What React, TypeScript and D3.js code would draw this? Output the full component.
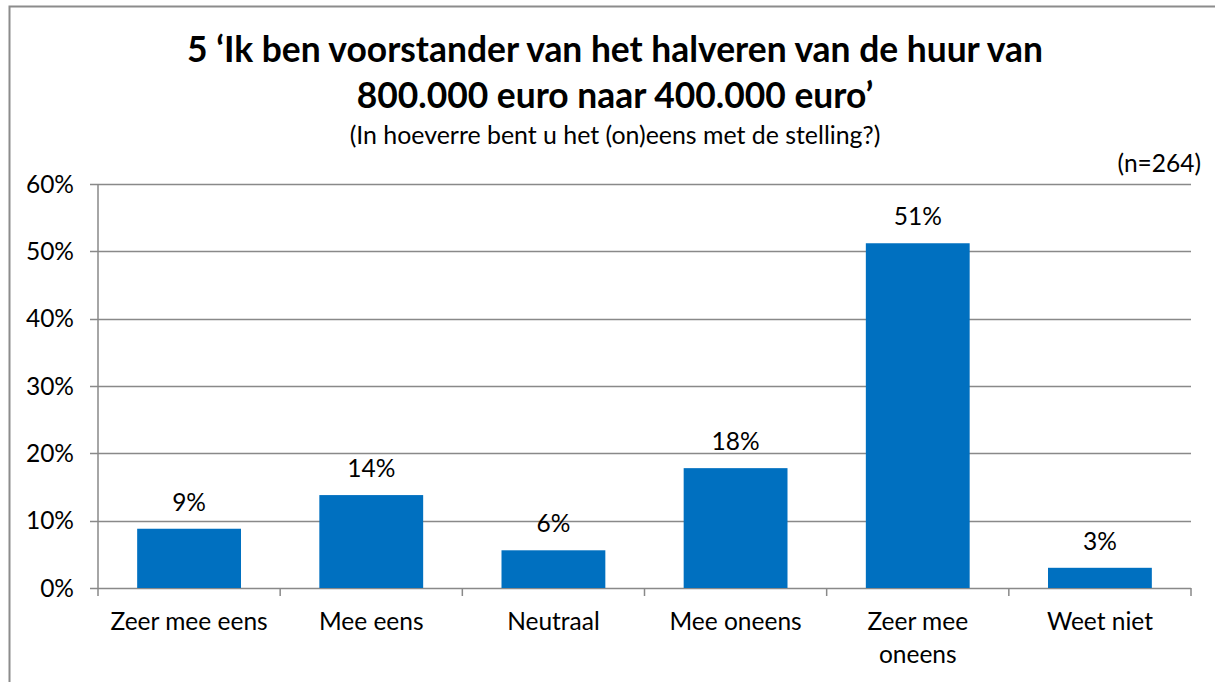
import React, { useEffect } from "react";
import * as d3 from "d3";

const categories: string[][] = [
  ["Zeer mee eens"],
  ["Mee eens"],
  ["Neutraal"],
  ["Mee oneens"],
  ["Zeer mee", "oneens"],
  ["Weet niet"],
];
const values: number[] = [8.8, 13.8, 5.6, 17.8, 51.2, 3.0];
const valueLabels: string[] = ["9%", "14%", "6%", "18%", "51%", "3%"];
const yTicks: number[] = [0, 10, 20, 30, 40, 50, 60];
const titleLines: string[] = [
  "5 \u2018Ik ben voorstander van het halveren van de huur van",
  "800.000 euro naar 400.000 euro\u2019",
];
const subtitle = "(In hoeverre bent u het (on)eens met de stelling?)";
const sampleNote = "(n=264)";

const W = 1215;
const H = 682;
const FONT = "Lato, 'Open Sans', sans-serif";
const FS = 24.5;

export default function App() {
  useEffect(() => {
    document.body.style.margin = "0";
  }, []);

  const left = 98;
  const right = 1191;
  const top = 184;
  const bottom = 588;

  const x = d3
    .scaleBand<number>()
    .domain(d3.range(categories.length))
    .range([left, right])
    .paddingInner(0.43)
    .paddingOuter(0.215);
  const xOuter = d3
    .scaleBand<number>()
    .domain(d3.range(categories.length))
    .range([left, right]);
  const y = d3.scaleLinear().domain([0, 60]).range([bottom, top]);

  const axisColor = "#898989";
  const barColor = "#0070C0";

  return (
    <svg width={W} height={H} style={{ display: "block" }} fontFamily={FONT}>
      <rect x={0} y={0} width={W} height={H} fill="#fff" />
      <path d={`M9.5,${H} V6.5 H${W}`} fill="none" stroke="#8c8c8c" strokeWidth={2} />

      {titleLines.map((t, i) => (
        <text
          key={i}
          x={615}
          y={62 + i * 46}
          textAnchor="middle"
          fontSize={35.4}
          fontWeight="bold"
          fill="#000"
        >
          {t}
        </text>
      ))}
      <text x={615} y={144} textAnchor="middle" fontSize={24.9} fill="#000">
        {subtitle}
      </text>
      <text x={1201} y={172} textAnchor="end" fontSize={FS} fill="#000">
        {sampleNote}
      </text>

      {yTicks.map((t) => (
        <g key={t}>
          <line
            x1={90}
            x2={right}
            y1={Math.round(y(t)) + 0.5}
            y2={Math.round(y(t)) + 0.5}
            stroke={axisColor}
            strokeWidth={1.5}
          />
          <text
            x={74}
            y={y(t)}
            dy="0.35em"
            textAnchor="end"
            fontSize={FS}
            fill="#000"
          >
            {t}%
          </text>
        </g>
      ))}
      <line x1={left} x2={left} y1={top} y2={bottom + 8} stroke={axisColor} strokeWidth={1.5} />
      {d3.range(1, categories.length + 1).map((i) => {
        const xx = i < categories.length ? xOuter(i)! : right;
        return (
          <line
            key={i}
            x1={xx}
            x2={xx}
            y1={bottom}
            y2={bottom + 8}
            stroke={axisColor}
            strokeWidth={1.5}
          />
        );
      })}

      {values.map((v, i) => (
        <g key={i}>
          <rect
            x={x(i)!}
            y={y(v)}
            width={x.bandwidth()}
            height={bottom - y(v)}
            fill={barColor}
          />
          <text
            x={x(i)! + x.bandwidth() / 2}
            y={y(v) - 18}
            textAnchor="middle"
            fontSize={FS}
            fill="#000"
          >
            {valueLabels[i]}
          </text>
          {categories[i].map((line, j) => (
            <text
              key={j}
              x={xOuter(i)! + xOuter.bandwidth() / 2}
              y={630 + j * 33}
              textAnchor="middle"
              fontSize={FS}
              fill="#000"
            >
              {line}
            </text>
          ))}
        </g>
      ))}
    </svg>
  );
}
